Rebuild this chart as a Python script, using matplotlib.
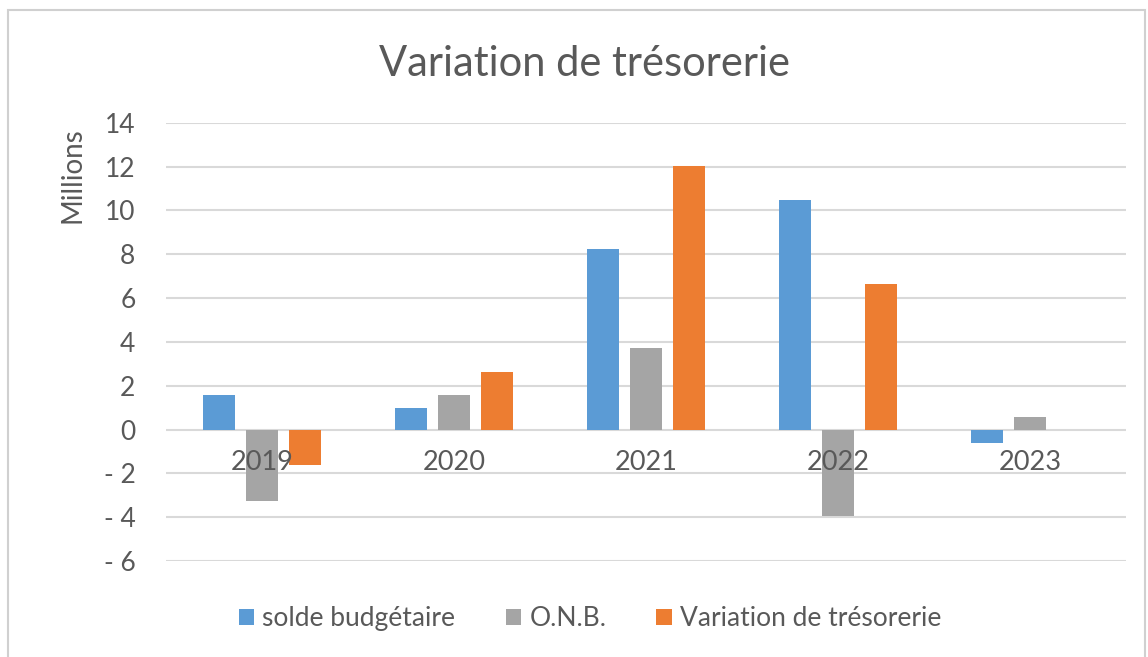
import matplotlib.pyplot as plt
import matplotlib.patches as patches
import numpy as np

plt.rcParams['font.family'] = ['Lato', 'DejaVu Sans']

years = ['2019', '2020', '2021', '2022', '2023']
solde = [1.57, 0.99, 8.23, 10.49, -0.60]
onb = [-3.27, 1.57, 3.71, -3.93, 0.59]
variation = [-1.60, 2.64, 12.03, 6.63, 0.0]

series = [
    ('solde budgétaire', solde, '#5B9BD5'),
    ('O.N.B.', onb, '#A5A5A5'),
    ('Variation de trésorerie', variation, '#ED7D31'),
]

text_col = '#595959'

fig = plt.figure(figsize=(11.48, 6.57), dpi=100)
ax = fig.add_axes([0.1446, 0.1461, 0.8362, 0.6671])

# outer chart frame
fig.patches.append(patches.Rectangle((0.007, -0.01), 0.99, 0.995, transform=fig.transFigure,
                                     fill=False, edgecolor='#D0D0D0', linewidth=1.5))

x = np.arange(len(years))
width = 0.17
step = 0.224
for i, (name, vals, col) in enumerate(series):
    ax.bar(x + (i - 1) * step, vals, width, color=col, label=name, zorder=3)

ax.set_xlim(-0.5, len(years) - 0.5)
ax.set_ylim(-6, 14)
ax.set_yticks(np.arange(-6, 15, 2))
ax.set_yticklabels([f'- {abs(v)}' if v < 0 else str(v) for v in range(-6, 15, 2)])

ax.set_axisbelow(True)
ax.yaxis.grid(True, color='#D9D9D9', linewidth=1.5)
for s in ax.spines.values():
    s.set_visible(False)

# category labels sit just under the zero line, on top of the bars
ax.spines['bottom'].set_position(('data', 0))
ax.set_xticks(x)
ax.set_xticklabels(years)
ax.xaxis.set_zorder(5)
ax.tick_params(axis='x', length=0, pad=15, labelsize=19.5, labelcolor=text_col)
ax.tick_params(axis='y', length=0, pad=22, labelsize=19, labelcolor=text_col)

fig.text(0.509, 0.903, 'Variation de trésorerie', ha='center', va='center',
         fontsize=30, color=text_col)
fig.text(0.063, 0.733, 'Millions', rotation=90, ha='center', va='center',
         fontsize=20, color=text_col)

fig.legend(loc='center', bbox_to_anchor=(0.514, 0.058), ncol=3, frameon=False,
           fontsize=19, labelcolor=text_col, handlelength=0.6, handleheight=0.6,
           handletextpad=0.3, columnspacing=1.9)

fig.savefig('out.png', dpi=100)
